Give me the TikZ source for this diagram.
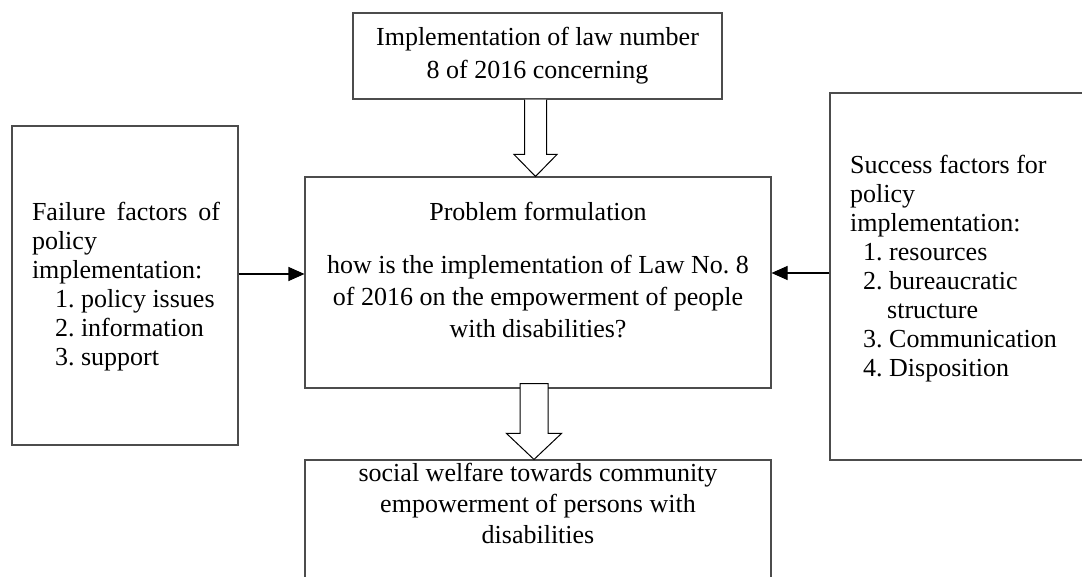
\documentclass[tikz,border=0pt]{standalone}
\usepackage{fontspec}
\setmainfont{Liberation Serif}
\usetikzlibrary{arrows.meta,calc}
\begin{document}
\frenchspacing
\begin{tikzpicture}[x=1pt,y=-1pt,
  box/.style={draw=black!70,line width=1.1pt,inner sep=0pt,minimum width=#1},
  txt/.style={inner sep=0pt,font=\fontsize{26}{#1}\selectfont\frenchspacing},
  conn/.style={draw=black,line width=1.1pt,-{Triangle[length=16pt,width=14pt]}},
  blockarrow/.style={draw=black,line width=1pt,fill=white,line join=miter}]
\useasboundingbox (0,0) rectangle (1082,577);
\clip (0,0) rectangle (1082,577);
% boxes
\node[box=369pt,minimum height=86pt] (law) at (537.5,56) {};
\node[box=466pt,minimum height=211pt] (main) at (538,282.5) {};
\node[box=226pt,minimum height=319pt] (fail) at (125,285.5) {};
\node[box=270pt,minimum height=367pt] (succ) at (965,276.5) {};
\node[box=466pt,minimum height=140pt] (welf) at (538,530) {};
% texts
\node[txt=33pt,align=center] (lawtxt) at (law.center) {Implementation of law number\\8 of 2016 concerning};
\node[txt=32pt,align=center] (maintxt) at (538,270) {Problem formulation\\[21pt]how is the implementation of Law No. 8\\of 2016 on the empowerment of people\\with disabilities?};
\node[txt=29pt,align=left] (failtxt) at (126,286.4) {\hbox to 188pt{Failure\hfill factors\hfill of}\\policy\\implementation:\\\hspace*{23pt}1. policy issues\\\hspace*{23pt}2. information\\\hspace*{23pt}3. support};
\node[txt=29pt,align=left,anchor=west] (succtxt) at (850,268.4) {Success factors for\\policy\\implementation:\\\hspace*{13pt}1. resources\\\hspace*{13pt}2. bureaucratic\\\hspace*{37pt}structure\\\hspace*{13pt}3. Communication\\\hspace*{13pt}4. Disposition};
\node[txt=31pt,align=center] (welftxt) at (538,503) {social welfare towards community\\empowerment of persons with\\disabilities};
% block arrow from law to main
\coordinate (t1) at ($(law.south |- main.north)+(-2,0)$);
\coordinate (s1) at ($(law.south)+(-2,0)$);
\draw[blockarrow] ($(s1)+(-11,0)$) -- ($(t1)+(-11,-22)$) -- ($(t1)+(-21.5,-22)$) -- (t1)
  -- ($(t1)+(21.5,-22)$) -- ($(t1)+(11,-22)$) -- ($(s1)+(11,0)$);
% block arrow from main to welfare
\coordinate (t2) at ($(main.south |- welf.north)+(-4,0)$);
\coordinate (s2) at ($(main.south)+(-4,-5)$);
\draw[blockarrow] ($(s2)+(-14,0)$) -- ($(t2)+(-14,-26)$) -- ($(t2)+(-27.5,-26)$) -- (t2)
  -- ($(t2)+(27.5,-26)$) -- ($(t2)+(14,-26)$) -- ($(s2)+(14,0)$) -- cycle;
% side connectors
\path ([yshift=11.5pt]fail.east) coordinate (la);
\draw[conn] (la) -- (la -| main.west);
\path ([yshift=3.5pt]succ.west) coordinate (ra);
\draw[conn] (ra) -- (ra -| main.east);
\end{tikzpicture}
\end{document}
